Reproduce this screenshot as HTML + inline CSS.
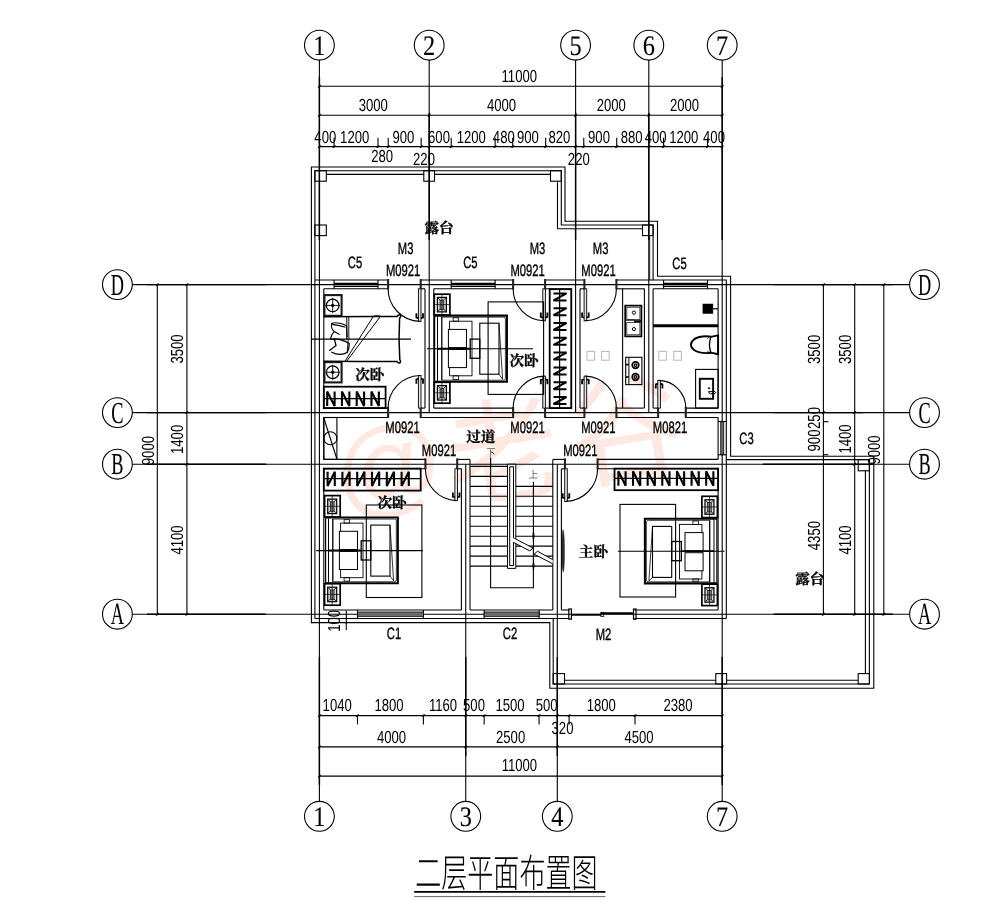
<!DOCTYPE html>
<html><head><meta charset="utf-8"><title>plan</title><style>html,body{margin:0;padding:0;background:#fff}
body{width:1007px;height:909px;overflow:hidden}
svg{display:block;position:absolute;left:0;top:0}
.g path,.g rect,.g circle{}
text{font-family:"Liberation Sans",sans-serif;fill:#000;stroke:none;text-rendering:geometricPrecision;filter:grayscale(1)}
text.l{stroke:#000;stroke-width:0.4px}
text.s{font-family:"Liberation Serif",serif;stroke:#000;stroke-width:0.12px}
text.w{font-family:"Liberation Sans","Noto Sans CJK SC",sans-serif;fill:#fde9e2;stroke:none;filter:none}
text.r{font-family:"Liberation Serif","Noto Serif CJK SC",serif;font-weight:bold;stroke:#000;stroke-width:0.3px}
text.c{font-family:"Liberation Sans","Noto Sans CJK SC",sans-serif;font-weight:300}
</style></head><body>
<svg width="1007" height="909" viewBox="0 0 1007 909">
<rect width="1007" height="909" fill="#fff"/>
<g class="g" fill="none" stroke="#000" stroke-width="1.1" stroke-linecap="butt" stroke-linejoin="miter">
<text class="w" transform="translate(340 511) rotate(-9)" font-size="108">@</text>
<text class="w" transform="translate(452 502) rotate(-9)" font-size="114">老</text>
<text class="w" transform="translate(574 482) rotate(-9)" font-size="118">谷</text>
<circle cx="319.4" cy="45.2" r="14.9"/>
<text class="s" transform="translate(319.4 54.5) scale(0.86 1)" font-size="28.3" text-anchor="middle">1</text>
<circle cx="429.2" cy="45.2" r="14.9"/>
<text class="s" transform="translate(429.2 54.5) scale(0.86 1)" font-size="28.3" text-anchor="middle">2</text>
<circle cx="575.6" cy="45.2" r="14.9"/>
<text class="s" transform="translate(575.6 54.5) scale(0.86 1)" font-size="28.3" text-anchor="middle">5</text>
<circle cx="648.8" cy="45.2" r="14.9"/>
<text class="s" transform="translate(648.8 54.5) scale(0.86 1)" font-size="28.3" text-anchor="middle">6</text>
<circle cx="722.2" cy="45.2" r="14.9"/>
<text class="s" transform="translate(722.2 54.5) scale(0.86 1)" font-size="28.3" text-anchor="middle">7</text>
<circle cx="319.4" cy="816.3" r="14.9"/>
<text class="s" transform="translate(319.4 825.6) scale(0.86 1)" font-size="28.3" text-anchor="middle">1</text>
<circle cx="465.75" cy="816.3" r="14.9"/>
<text class="s" transform="translate(465.75 825.6) scale(0.86 1)" font-size="28.3" text-anchor="middle">3</text>
<circle cx="557.3" cy="816.3" r="14.9"/>
<text class="s" transform="translate(557.3 825.6) scale(0.86 1)" font-size="28.3" text-anchor="middle">4</text>
<circle cx="722.2" cy="816.3" r="14.9"/>
<text class="s" transform="translate(722.2 825.6) scale(0.86 1)" font-size="28.3" text-anchor="middle">7</text>
<circle cx="117.4" cy="284.6" r="14.9"/>
<text class="s" transform="translate(117.4 294.6) scale(0.6 1)" font-size="30.5" text-anchor="middle">D</text>
<circle cx="924.5" cy="284.6" r="14.9"/>
<text class="s" transform="translate(924.5 294.6) scale(0.6 1)" font-size="30.5" text-anchor="middle">D</text>
<path d="M132.3 284.6L909.6 284.6"/>
<circle cx="117.4" cy="412.6" r="14.9"/>
<text class="s" transform="translate(117.4 422.6) scale(0.6 1)" font-size="30.5" text-anchor="middle">C</text>
<circle cx="924.5" cy="412.6" r="14.9"/>
<text class="s" transform="translate(924.5 422.6) scale(0.6 1)" font-size="30.5" text-anchor="middle">C</text>
<path d="M132.3 412.6L909.6 412.6"/>
<circle cx="117.4" cy="464.2" r="14.9"/>
<text class="s" transform="translate(117.4 474.2) scale(0.6 1)" font-size="30.5" text-anchor="middle">B</text>
<circle cx="924.5" cy="464.2" r="14.9"/>
<text class="s" transform="translate(924.5 474.2) scale(0.6 1)" font-size="30.5" text-anchor="middle">B</text>
<path d="M132.3 464.2L909.6 464.2"/>
<circle cx="117.4" cy="614.2" r="14.9"/>
<text class="s" transform="translate(117.4 624.2) scale(0.6 1)" font-size="30.5" text-anchor="middle">A</text>
<circle cx="924.5" cy="614.2" r="14.9"/>
<text class="s" transform="translate(924.5 624.2) scale(0.6 1)" font-size="30.5" text-anchor="middle">A</text>
<path d="M132.3 614.2L909.6 614.2"/>
<path d="M319.4 60.1L319.4 801.4"/>
<path d="M722.2 60.1L722.2 801.4"/>
<path d="M429.2 60.1L429.2 412.6"/>
<path d="M575.6 60.1L575.6 412.6"/>
<path d="M648.8 60.1L648.8 412.6"/>
<path d="M465.75 464.2L465.75 801.4"/>
<path d="M557.3 464.2L557.3 801.4"/>
<path d="M319.4 86.3L723.2 86.3"/>
<path d="M319.4 115.3L723.2 115.3"/>
<path d="M319.4 146.6L723.2 146.6"/>
<path d="M318.1 87.6L320.7 85"/>
<path d="M720.85 87.6L723.45 85"/>
<path d="M318.1 116.6L320.7 114"/>
<path d="M427.9 116.6L430.5 114"/>
<path d="M574.3 116.6L576.9 114"/>
<path d="M647.5 116.6L650.1 114"/>
<path d="M720.9 116.6L723.5 114"/>
<path d="M334.05 137.8L334.05 147.4"/>
<path d="M332.75 147.9L335.35 145.3"/>
<path d="M377.98 137.8L377.98 147.4"/>
<path d="M376.68 147.9L379.28 145.3"/>
<path d="M388.23 137.8L388.23 147.4"/>
<path d="M386.93 147.9L389.53 145.3"/>
<path d="M421.19 137.8L421.19 147.4"/>
<path d="M419.89 147.9L422.49 145.3"/>
<path d="M451.21 137.8L451.21 147.4"/>
<path d="M449.91 147.9L452.51 145.3"/>
<path d="M495.15 137.8L495.15 147.4"/>
<path d="M493.85 147.9L496.45 145.3"/>
<path d="M512.72 137.8L512.72 147.4"/>
<path d="M511.42 147.9L514.02 145.3"/>
<path d="M545.67 137.8L545.67 147.4"/>
<path d="M544.37 147.9L546.97 145.3"/>
<path d="M583.75 137.8L583.75 147.4"/>
<path d="M582.45 147.9L585.05 145.3"/>
<path d="M616.71 137.8L616.71 147.4"/>
<path d="M615.41 147.9L618.01 145.3"/>
<path d="M663.57 137.8L663.57 147.4"/>
<path d="M662.27 147.9L664.87 145.3"/>
<path d="M707.51 137.8L707.51 147.4"/>
<path d="M706.21 147.9L708.81 145.3"/>
<path d="M318.1 147.9L320.7 145.3"/>
<path d="M427.94 147.9L430.54 145.3"/>
<path d="M574.4 147.9L577 145.3"/>
<path d="M647.63 147.9L650.23 145.3"/>
<path d="M720.85 147.9L723.45 145.3"/>
<text class="t" transform="translate(519.3 82) scale(0.75 1)" font-size="17.5" text-anchor="middle">11000</text>
<text class="t" transform="translate(373.3 111.3) scale(0.75 1)" font-size="17.5" text-anchor="middle">3000</text>
<text class="t" transform="translate(501.5 111.3) scale(0.75 1)" font-size="17.5" text-anchor="middle">4000</text>
<text class="t" transform="translate(611.3 111.3) scale(0.75 1)" font-size="17.5" text-anchor="middle">2000</text>
<text class="t" transform="translate(684.5 111.3) scale(0.75 1)" font-size="17.5" text-anchor="middle">2000</text>
<text class="t" transform="translate(325.3 143.1) scale(0.75 1)" font-size="17.5" text-anchor="middle">400</text>
<text class="t" transform="translate(354.7 143.1) scale(0.75 1)" font-size="17.5" text-anchor="middle">1200</text>
<text class="t" transform="translate(403.4 143.1) scale(0.75 1)" font-size="17.5" text-anchor="middle">900</text>
<text class="t" transform="translate(439 143.1) scale(0.75 1)" font-size="17.5" text-anchor="middle">600</text>
<text class="t" transform="translate(471.3 143.1) scale(0.75 1)" font-size="17.5" text-anchor="middle">1200</text>
<text class="t" transform="translate(503.8 143.1) scale(0.75 1)" font-size="17.5" text-anchor="middle">480</text>
<text class="t" transform="translate(527.9 143.1) scale(0.75 1)" font-size="17.5" text-anchor="middle">900</text>
<text class="t" transform="translate(559.4 143.1) scale(0.75 1)" font-size="17.5" text-anchor="middle">820</text>
<text class="t" transform="translate(599 143.1) scale(0.75 1)" font-size="17.5" text-anchor="middle">900</text>
<text class="t" transform="translate(631.6 143.1) scale(0.75 1)" font-size="17.5" text-anchor="middle">880</text>
<text class="t" transform="translate(655.6 143.1) scale(0.75 1)" font-size="17.5" text-anchor="middle">400</text>
<text class="t" transform="translate(683.8 143.1) scale(0.75 1)" font-size="17.5" text-anchor="middle">1200</text>
<text class="t" transform="translate(714 143.1) scale(0.75 1)" font-size="17.5" text-anchor="middle">400</text>
<text class="t" transform="translate(382.2 162) scale(0.75 1)" font-size="17.5" text-anchor="middle">280</text>
<text class="t" transform="translate(424 164.5) scale(0.75 1)" font-size="17.5" text-anchor="middle">220</text>
<text class="t" transform="translate(578.8 164.5) scale(0.75 1)" font-size="17.5" text-anchor="middle">220</text>
<path d="M319.4 715.6L723.2 715.6"/>
<path d="M319.4 746.9L723.2 746.9"/>
<path d="M319.4 776.1L723.2 776.1"/>
<path d="M357.48 714.8L357.48 724.4"/>
<path d="M356.18 716.9L358.78 714.3"/>
<path d="M423.38 714.8L423.38 724.4"/>
<path d="M422.08 716.9L424.68 714.3"/>
<path d="M484.16 714.8L484.16 724.4"/>
<path d="M482.86 716.9L485.46 714.3"/>
<path d="M539.08 714.8L539.08 724.4"/>
<path d="M537.78 716.9L540.38 714.3"/>
<path d="M569.11 714.8L569.11 724.4"/>
<path d="M567.81 716.9L570.41 714.3"/>
<path d="M635.01 714.8L635.01 724.4"/>
<path d="M633.71 716.9L636.31 714.3"/>
<path d="M318.1 716.9L320.7 714.3"/>
<path d="M464.56 716.9L467.16 714.3"/>
<path d="M556.09 716.9L558.69 714.3"/>
<path d="M720.85 716.9L723.45 714.3"/>
<path d="M318.1 748.2L320.7 745.6"/>
<path d="M464.45 748.2L467.05 745.6"/>
<path d="M556 748.2L558.6 745.6"/>
<path d="M720.9 748.2L723.5 745.6"/>
<path d="M318.1 777.4L320.7 774.8"/>
<path d="M720.9 777.4L723.5 774.8"/>
<text class="t" transform="translate(337.2 711) scale(0.75 1)" font-size="17.5" text-anchor="middle">1040</text>
<text class="t" transform="translate(389 711) scale(0.75 1)" font-size="17.5" text-anchor="middle">1800</text>
<text class="t" transform="translate(443 711) scale(0.75 1)" font-size="17.5" text-anchor="middle">1160</text>
<text class="t" transform="translate(474 711) scale(0.75 1)" font-size="17.5" text-anchor="middle">500</text>
<text class="t" transform="translate(510 711) scale(0.75 1)" font-size="17.5" text-anchor="middle">1500</text>
<text class="t" transform="translate(546.6 711) scale(0.75 1)" font-size="17.5" text-anchor="middle">500</text>
<text class="t" transform="translate(601.3 711) scale(0.75 1)" font-size="17.5" text-anchor="middle">1800</text>
<text class="t" transform="translate(678 711) scale(0.75 1)" font-size="17.5" text-anchor="middle">2380</text>
<text class="t" transform="translate(562.5 733.8) scale(0.75 1)" font-size="17.5" text-anchor="middle">320</text>
<text class="t" transform="translate(391.5 742.5) scale(0.75 1)" font-size="17.5" text-anchor="middle">4000</text>
<text class="t" transform="translate(510.6 742.5) scale(0.75 1)" font-size="17.5" text-anchor="middle">2500</text>
<text class="t" transform="translate(639 742.5) scale(0.75 1)" font-size="17.5" text-anchor="middle">4500</text>
<text class="t" transform="translate(519.4 771.2) scale(0.75 1)" font-size="17.5" text-anchor="middle">11000</text>
<path d="M157.3 284.6L157.3 615.2"/>
<path d="M186.9 284.6L186.9 615.2"/>
<path d="M156 285.9L158.6 283.3"/>
<path d="M156 615.5L158.6 612.9"/>
<path d="M185.6 285.9L188.2 283.3"/>
<path d="M185.6 413.9L188.2 411.3"/>
<path d="M185.6 465.5L188.2 462.9"/>
<path d="M185.6 615.5L188.2 612.9"/>
<text class="t" transform="translate(182.5 349) rotate(-90) scale(0.75 1)" font-size="17.5" text-anchor="middle">3500</text>
<text class="t" transform="translate(182.5 439.4) rotate(-90) scale(0.75 1)" font-size="17.5" text-anchor="middle">1400</text>
<text class="t" transform="translate(182.5 540) rotate(-90) scale(0.75 1)" font-size="17.5" text-anchor="middle">4100</text>
<text class="t" transform="translate(153.8 450.6) rotate(-90) scale(0.75 1)" font-size="17.5" text-anchor="middle">9000</text>
<path d="M823.4 284.6L823.4 615.2"/>
<path d="M854.7 284.6L854.7 615.2"/>
<path d="M883.8 284.6L883.8 615.2"/>
<path d="M822.1 285.9L824.7 283.3"/>
<path d="M822.1 615.5L824.7 612.9"/>
<path d="M853.4 285.9L856 283.3"/>
<path d="M853.4 615.5L856 612.9"/>
<path d="M882.5 285.9L885.1 283.3"/>
<path d="M882.5 615.5L885.1 612.9"/>
<path d="M853.4 413.9L856 411.3"/>
<path d="M853.4 465.5L856 462.9"/>
<path d="M822.1 413.9L824.7 411.3"/>
<path d="M822.9 421.7L828.4 421.7"/>
<path d="M822.9 454.7L828.4 454.7"/>
<text class="t" transform="translate(820 349.4) rotate(-90) scale(0.75 1)" font-size="17.5" text-anchor="middle">3500</text>
<text class="t" transform="translate(820 418) rotate(-90) scale(0.75 1)" font-size="17.5" text-anchor="middle">250</text>
<text class="t" transform="translate(820 440.5) rotate(-90) scale(0.75 1)" font-size="17.5" text-anchor="middle">900</text>
<text class="t" transform="translate(820 535.6) rotate(-90) scale(0.75 1)" font-size="17.5" text-anchor="middle">4350</text>
<text class="t" transform="translate(851.3 349.4) rotate(-90) scale(0.75 1)" font-size="17.5" text-anchor="middle">3500</text>
<text class="t" transform="translate(851.3 439) rotate(-90) scale(0.75 1)" font-size="17.5" text-anchor="middle">1400</text>
<text class="t" transform="translate(851.3 540) rotate(-90) scale(0.75 1)" font-size="17.5" text-anchor="middle">4100</text>
<text class="t" transform="translate(880.3 450) rotate(-90) scale(0.75 1)" font-size="17.5" text-anchor="middle">9000</text>
<path d="M311.4 167L565 167L565 221.3L657.5 221.3L657.5 276.3L730.6 276.3L730.6 456.3L873.8 456.3L873.8 688.3L549.8 688.3L549.8 622.6L311.4 622.6Z"/>
<path d="M314.9 618.5L314.9 170.7L561.3 170.7L561.3 225L653.1 225L653.1 280L726.3 280L726.3 459.6L869.4 459.6L869.4 684L553.2 684L553.2 618.5"/>
<path d="M326.3 174.4L423.8 174.4"/>
<path d="M434.5 174.4L550.5 174.4"/>
<path d="M557.5 180.8L557.5 228.8"/>
<path d="M557.5 228.8L642.5 228.8"/>
<path d="M865.4 470.8L865.4 673.6"/>
<path d="M649.7 235.6L649.7 280" stroke-width="0.8"/>
<path d="M564.5 680.2L715.8 680.2"/>
<path d="M726.6 680.2L858.1 680.2"/>
<rect x="314.9" y="170.7" width="11.4" height="10.5"/>
<rect x="423.8" y="170.7" width="10.7" height="10.5"/>
<rect x="550.5" y="170.7" width="10.8" height="10.5"/>
<rect x="314.9" y="225" width="11.4" height="10.6"/>
<rect x="642.5" y="225" width="10.6" height="10.6"/>
<rect x="858.2" y="459.6" width="11.2" height="11.2"/>
<rect x="553.2" y="673.6" width="11.3" height="10.4"/>
<rect x="715.8" y="673.6" width="10.8" height="10.4"/>
<rect x="858.2" y="673.6" width="11.2" height="10.4"/>
<path d="M314.9 280L388.1 280"/>
<path d="M420.7 280L513.1 280"/>
<path d="M545.1 280L584.4 280"/>
<path d="M616.4 280L653.1 280"/>
<path d="M323.8 288.8L388.1 288.8"/>
<path d="M420.7 288.8L425 288.8"/>
<path d="M433.8 288.8L513.1 288.8"/>
<path d="M545.1 288.8L571.3 288.8"/>
<path d="M580 288.8L584.4 288.8"/>
<path d="M616.4 288.8L644.4 288.8"/>
<path d="M653.1 288.8L718.1 288.8"/>
<path d="M323.8 408.1L388.1 408.1"/>
<path d="M420.7 408.1L425 408.1"/>
<path d="M433.8 408.1L513.1 408.1"/>
<path d="M545.1 408.1L571.3 408.1"/>
<path d="M580 408.1L584.4 408.1"/>
<path d="M616.4 408.1L644.4 408.1"/>
<path d="M653.1 408.1L658.1 408.1"/>
<path d="M685.8 408.1L718.1 408.1"/>
<path d="M323.8 417.5L388.1 417.5"/>
<path d="M420.7 417.5L513.1 417.5"/>
<path d="M545.1 417.5L584.4 417.5"/>
<path d="M616.4 417.5L658.1 417.5"/>
<path d="M685.8 417.5L718.1 417.5"/>
<path d="M323.8 459.4L425.4 459.4"/>
<path d="M457.2 459.4L470 459.4"/>
<path d="M552.8 459.4L565 459.4"/>
<path d="M597.6 459.4L718.1 459.4"/>
<path d="M323.8 468.8L425.4 468.8"/>
<path d="M457.2 468.8L461.4 468.8"/>
<path d="M561.4 468.8L565 468.8"/>
<path d="M597.6 468.8L718.1 468.8"/>
<path d="M323.8 610L461.4 610"/>
<path d="M470 610L552.8 610"/>
<path d="M561.4 610L569.3 610"/>
<path d="M634.5 610L718.1 610"/>
<path d="M314.9 618.5L569.3 618.5"/>
<path d="M634.5 618.5L726.3 618.5"/>
<path d="M323.8 288.8L323.8 408.1"/>
<path d="M323.8 417.5L323.8 459.4"/>
<path d="M323.8 468.8L323.8 610"/>
<path d="M425 288.8L425 408.1"/>
<path d="M433.8 288.8L433.8 408.1"/>
<path d="M571.3 288.8L571.3 408.1"/>
<path d="M580 288.8L580 408.1"/>
<path d="M644.4 288.8L644.4 408.1"/>
<path d="M653.1 288.8L653.1 408.1"/>
<path d="M718.1 288.8L718.1 408.1"/>
<path d="M718.1 417.5L718.1 459.4"/>
<path d="M718.1 468.8L718.1 610"/>
<path d="M726.3 459.6L726.3 618.5"/>
<path d="M461.4 468.8L461.4 610"/>
<path d="M470 459.4L470 610"/>
<path d="M552.8 459.4L552.8 610"/>
<path d="M561.4 468.8L561.4 610"/>
<path d="M388.1 279L388.1 289.4" stroke-width="2.1" stroke="#222"/>
<path d="M420.7 279L420.7 289.4" stroke-width="2.1" stroke="#222"/>
<path d="M513.1 279L513.1 289.4" stroke-width="2.1" stroke="#222"/>
<path d="M545.1 279L545.1 289.4" stroke-width="2.1" stroke="#222"/>
<path d="M584.4 279L584.4 289.4" stroke-width="2.1" stroke="#222"/>
<path d="M616.4 279L616.4 289.4" stroke-width="2.1" stroke="#222"/>
<path d="M388.1 407.1L388.1 418.1" stroke-width="2.1" stroke="#222"/>
<path d="M420.7 407.1L420.7 418.1" stroke-width="2.1" stroke="#222"/>
<path d="M513.1 407.1L513.1 418.1" stroke-width="2.1" stroke="#222"/>
<path d="M545.1 407.1L545.1 418.1" stroke-width="2.1" stroke="#222"/>
<path d="M584.4 407.1L584.4 418.1" stroke-width="2.1" stroke="#222"/>
<path d="M616.4 407.1L616.4 418.1" stroke-width="2.1" stroke="#222"/>
<path d="M658.1 407.1L658.1 418.1" stroke-width="2.1" stroke="#222"/>
<path d="M685.8 407.1L685.8 418.1" stroke-width="2.1" stroke="#222"/>
<path d="M425.4 458.4L425.4 469.4" stroke-width="2.1" stroke="#222"/>
<path d="M457.2 458.4L457.2 469.4" stroke-width="2.1" stroke="#222"/>
<path d="M565 458.4L565 469.4" stroke-width="2.1" stroke="#222"/>
<path d="M597.6 458.4L597.6 469.4" stroke-width="2.1" stroke="#222"/>
<path d="M334.05 280L334.05 288.8"/>
<path d="M377.98 280L377.98 288.8"/>
<path d="M334.05 283.3L377.98 283.3" stroke-width="1.3"/>
<path d="M334.05 286.4L377.98 286.4" stroke-width="1.1"/>
<path d="M451.21 280L451.21 288.8"/>
<path d="M495.15 280L495.15 288.8"/>
<path d="M451.21 283.3L495.15 283.3" stroke-width="1.3"/>
<path d="M451.21 286.4L495.15 286.4" stroke-width="1.1"/>
<path d="M663.57 280L663.57 288.8"/>
<path d="M707.51 280L707.51 288.8"/>
<path d="M663.57 283.3L707.51 283.3" stroke-width="1.3"/>
<path d="M663.57 286.4L707.51 286.4" stroke-width="1.1"/>
<path d="M357.48 610L357.48 618.5"/>
<path d="M423.38 610L423.38 618.5"/>
<rect x="357.48" y="611.95" width="65.91" height="4.5" stroke-width="0.7" fill="#6a6a6a"/>
<path d="M484.16 610L484.16 618.5"/>
<path d="M539.08 610L539.08 618.5"/>
<rect x="484.16" y="611.95" width="54.92" height="4.5" stroke-width="0.7" fill="#6a6a6a"/>
<rect x="720.7" y="421.7" width="3.1" height="33" stroke-width="0.7" fill="#666"/>
<path d="M718.1 421.5L726.3 421.5"/>
<path d="M718.1 454.8L726.3 454.8"/>
<rect x="418.4" y="288.8" width="2.6" height="32.6" stroke-width="0.9" fill="#e4e4e4"/>
<path d="M416.4 313.2L416.4 317.5L418.4 318.2" stroke-width="1.8"/>
<path d="M423 313.2L423 317.5L421 318.2" stroke-width="1.8"/>
<path d="M419.7 321.4A32.6 32.6 0 0 1 388.1 288.8"/>
<rect x="542.8" y="288.8" width="2.6" height="32" stroke-width="0.9" fill="#e4e4e4"/>
<path d="M540.8 312.6L540.8 316.9L542.8 317.6" stroke-width="1.8"/>
<path d="M547.4 312.6L547.4 316.9L545.4 317.6" stroke-width="1.8"/>
<path d="M544.1 320.8A32 32 0 0 1 513.1 288.8"/>
<rect x="584.1" y="288.8" width="2.6" height="32" stroke-width="0.9" fill="#e4e4e4"/>
<path d="M582.1 312.6L582.1 316.9L584.1 317.6" stroke-width="1.8"/>
<path d="M588.7 312.6L588.7 316.9L586.7 317.6" stroke-width="1.8"/>
<path d="M585.4 320.8A32 32 0 0 0 616.4 288.8"/>
<rect x="418.4" y="375.5" width="2.6" height="32.6" stroke-width="0.9" fill="#e4e4e4"/>
<path d="M416.4 383.7L416.4 379.4L418.4 378.7" stroke-width="1.8"/>
<path d="M423 383.7L423 379.4L421 378.7" stroke-width="1.8"/>
<path d="M419.7 375.5A32.6 32.6 0 0 0 388.1 408.1"/>
<rect x="542.8" y="376.1" width="2.6" height="32" stroke-width="0.9" fill="#e4e4e4"/>
<path d="M540.8 384.3L540.8 380L542.8 379.3" stroke-width="1.8"/>
<path d="M547.4 384.3L547.4 380L545.4 379.3" stroke-width="1.8"/>
<path d="M544.1 376.1A32 32 0 0 0 513.1 408.1"/>
<rect x="584.1" y="376.1" width="2.6" height="32" stroke-width="0.9" fill="#e4e4e4"/>
<path d="M582.1 384.3L582.1 380L584.1 379.3" stroke-width="1.8"/>
<path d="M588.7 384.3L588.7 380L586.7 379.3" stroke-width="1.8"/>
<path d="M585.4 376.1A32 32 0 0 1 616.4 408.1"/>
<rect x="657.8" y="380.4" width="2.6" height="27.7" stroke-width="0.9" fill="#e4e4e4"/>
<path d="M655.8 388.6L655.8 384.3L657.8 383.6" stroke-width="1.8"/>
<path d="M662.4 388.6L662.4 384.3L660.4 383.6" stroke-width="1.8"/>
<path d="M659.1 380.4A27.7 27.7 0 0 1 685.8 408.1"/>
<rect x="454.9" y="468.8" width="2.6" height="31.8" stroke-width="0.9" fill="#e4e4e4"/>
<path d="M452.9 492.4L452.9 496.7L454.9 497.4" stroke-width="1.8"/>
<path d="M459.5 492.4L459.5 496.7L457.5 497.4" stroke-width="1.8"/>
<path d="M456.2 500.6A31.8 31.8 0 0 1 425.4 468.8"/>
<rect x="564.7" y="468.8" width="2.6" height="32.6" stroke-width="0.9" fill="#e4e4e4"/>
<path d="M562.7 493.2L562.7 497.5L564.7 498.2" stroke-width="1.8"/>
<path d="M569.3 493.2L569.3 497.5L567.3 498.2" stroke-width="1.8"/>
<path d="M566 501.4A32.6 32.6 0 0 0 597.6 468.8"/>
<rect x="568.8" y="609" width="2.6" height="10.2" stroke-width="1.2"/>
<rect x="633.5" y="609" width="2.5" height="10.2" stroke-width="1.2"/>
<path d="M571.6 614.8L601.5 614.8" stroke-width="1.9"/>
<path d="M601 613.2L633.4 613.2" stroke-width="1.9"/>
<rect x="600.8" y="612.6" width="2.9" height="3.8" stroke-width="0.8"/>
<rect x="323.8" y="386.7" width="61.8" height="21.4" stroke-width="1.8"/>
<path d="M323.8 398.6L385.6 398.6" stroke-width="1.2"/>
<path d="M327.2 406L327.2 391.6L334.6 406L334.6 391.6" stroke-width="2.1"/>
<path d="M341.95 406L341.95 391.6L349.35 406L349.35 391.6" stroke-width="2.1"/>
<path d="M356.7 406L356.7 391.6L364.1 406L364.1 391.6" stroke-width="2.1"/>
<path d="M371.45 406L371.45 391.6L378.85 406L378.85 391.6" stroke-width="2.1"/>
<rect x="323.8" y="468.6" width="96.9" height="22" stroke-width="1.8"/>
<path d="M323.8 478.7L420.7 478.7" stroke-width="1.2"/>
<path d="M327.6 471.7L327.6 486.1L334.8 471.7L334.8 486.1" stroke-width="2.1"/>
<path d="M342.4 471.7L342.4 486.1L349.6 471.7L349.6 486.1" stroke-width="2.1"/>
<path d="M357.2 471.7L357.2 486.1L364.4 471.7L364.4 486.1" stroke-width="2.1"/>
<path d="M372 471.7L372 486.1L379.2 471.7L379.2 486.1" stroke-width="2.1"/>
<path d="M386.8 471.7L386.8 486.1L394 471.7L394 486.1" stroke-width="2.1"/>
<path d="M401.6 471.7L401.6 486.1L408.8 471.7L408.8 486.1" stroke-width="2.1"/>
<rect x="614.5" y="468.6" width="103.6" height="21.6" stroke-width="1.8"/>
<path d="M614.5 478.3L718.1 478.3" stroke-width="1.2"/>
<path d="M618.4 485.7L618.4 471.3L625.6 485.7L625.6 471.3" stroke-width="2.1"/>
<path d="M633.03 485.7L633.03 471.3L640.23 485.7L640.23 471.3" stroke-width="2.1"/>
<path d="M647.66 485.7L647.66 471.3L654.86 485.7L654.86 471.3" stroke-width="2.1"/>
<path d="M662.29 485.7L662.29 471.3L669.49 485.7L669.49 471.3" stroke-width="2.1"/>
<path d="M676.92 485.7L676.92 471.3L684.12 485.7L684.12 471.3" stroke-width="2.1"/>
<path d="M691.55 485.7L691.55 471.3L698.75 485.7L698.75 471.3" stroke-width="2.1"/>
<path d="M706.18 485.7L706.18 471.3L713.38 485.7L713.38 471.3" stroke-width="2.1"/>
<rect x="549.7" y="289.2" width="21.6" height="118.9" stroke-width="1.8"/>
<path d="M559.6 288.8L559.6 408.1" stroke-width="1.2"/>
<path d="M553.5 293.4L566.5 293.4L553.5 300.4L566.5 300.4" stroke-width="2"/>
<path d="M553.5 308.2L566.5 308.2L553.5 315.2L566.5 315.2" stroke-width="2"/>
<path d="M553.5 323L566.5 323L553.5 330L566.5 330" stroke-width="2"/>
<path d="M553.5 337.8L566.5 337.8L553.5 344.8L566.5 344.8" stroke-width="2"/>
<path d="M553.5 352.6L566.5 352.6L553.5 359.6L566.5 359.6" stroke-width="2"/>
<path d="M553.5 367.4L566.5 367.4L553.5 374.4L566.5 374.4" stroke-width="2"/>
<path d="M553.5 382.2L566.5 382.2L553.5 389.2L566.5 389.2" stroke-width="2"/>
<path d="M553.5 397L566.5 397L553.5 404L566.5 404" stroke-width="2"/>
<rect x="366.3" y="505" width="55.6" height="92.5"/>
<rect x="324.6" y="495.6" width="15.6" height="21.4" stroke-width="1.7"/>
<rect x="327.7" y="499.1" width="9" height="14.5" stroke-width="1.2" fill="#d8d8d8"/>
<path d="M327.7 499.1L330.4 501.7" stroke-width="0.8"/>
<path d="M327.7 513.5L330.4 510.9" stroke-width="0.8"/>
<path d="M336.7 499.1L334 501.7" stroke-width="0.8"/>
<path d="M336.7 513.5L334 510.9" stroke-width="0.8"/>
<rect x="330.4" y="501.9" width="3.6" height="9.4" stroke-width="0.9" stroke="#222" fill="#8c8c8c"/>
<path d="M324.6 506.3L340.2 506.3" stroke-width="0.7"/>
<path d="M332.2 495.6L332.2 517" stroke-width="0.7"/>
<rect x="324.6" y="583.6" width="15.6" height="21.6" stroke-width="1.7"/>
<rect x="327.7" y="587.2" width="9" height="14.5" stroke-width="1.2" fill="#d8d8d8"/>
<path d="M327.7 587.2L330.4 589.8" stroke-width="0.8"/>
<path d="M327.7 601.6L330.4 599" stroke-width="0.8"/>
<path d="M336.7 587.2L334 589.8" stroke-width="0.8"/>
<path d="M336.7 601.6L334 599" stroke-width="0.8"/>
<rect x="330.4" y="590" width="3.6" height="9.4" stroke-width="0.9" stroke="#222" fill="#8c8c8c"/>
<path d="M324.6 594.4L340.2 594.4" stroke-width="0.7"/>
<path d="M332.2 583.6L332.2 605.2" stroke-width="0.7"/>
<path d="M325.6 517.5L397.8 517.5L397.8 583.3L325.6 583.3" stroke-width="2.1"/>
<path d="M325.6 517.5L325.6 583.3" stroke-width="1.2"/>
<path d="M328.5 518.3L328.5 582.5" stroke-width="1"/>
<path d="M332.8 519L332.8 581.8" stroke-width="1.3"/>
<path d="M332.8 519.1L394.4 519.1Q396.3 519.1 396.3 521L396.3 579.8Q396.3 581.7 394.4 581.7L332.8 581.7" stroke-width="0.7"/>
<rect x="340.6" y="523.1" width="22.4" height="54.6" stroke-width="0.9"/>
<rect x="344.1" y="519.7" width="5.5" height="3.4" stroke-width="0.8"/>
<rect x="344.1" y="577.7" width="5.5" height="3.4" stroke-width="0.8"/>
<rect x="339.4" y="531.3" width="18.1" height="18.2" stroke-width="1" fill="#fff"/>
<rect x="339.4" y="551.4" width="18.1" height="18.1" stroke-width="1" fill="#fff"/>
<path d="M328.5 550.45L361.6 550.45" stroke-width="1.9"/>
<rect x="361.2" y="540.8" width="9.6" height="19.2" stroke-width="1.3"/>
<rect x="370.8" y="525.1" width="19.2" height="51" stroke-width="1.1"/>
<path d="M390 525.5L393.6 580.8L390 576.1" stroke-width="0.8"/>
<path d="M316.3 550.6L423 550.6"/>
<rect x="488.1" y="301.9" width="55.5" height="92.5"/>
<rect x="434.3" y="294.2" width="15.6" height="20.8" stroke-width="1.7"/>
<rect x="437.4" y="297.4" width="9" height="14.5" stroke-width="1.2" fill="#d8d8d8"/>
<path d="M437.4 297.4L440.1 300" stroke-width="0.8"/>
<path d="M437.4 311.8L440.1 309.2" stroke-width="0.8"/>
<path d="M446.4 297.4L443.7 300" stroke-width="0.8"/>
<path d="M446.4 311.8L443.7 309.2" stroke-width="0.8"/>
<rect x="440.1" y="300.2" width="3.6" height="9.4" stroke-width="0.9" stroke="#222" fill="#8c8c8c"/>
<path d="M434.3 304.6L449.9 304.6" stroke-width="0.7"/>
<path d="M441.9 294.2L441.9 315" stroke-width="0.7"/>
<rect x="434.3" y="382.3" width="15.6" height="20.9" stroke-width="1.7"/>
<rect x="437.4" y="385.55" width="9" height="14.5" stroke-width="1.2" fill="#d8d8d8"/>
<path d="M437.4 385.55L440.1 388.15" stroke-width="0.8"/>
<path d="M437.4 399.95L440.1 397.35" stroke-width="0.8"/>
<path d="M446.4 385.55L443.7 388.15" stroke-width="0.8"/>
<path d="M446.4 399.95L443.7 397.35" stroke-width="0.8"/>
<rect x="440.1" y="388.35" width="3.6" height="9.4" stroke-width="0.9" stroke="#222" fill="#8c8c8c"/>
<path d="M434.3 392.75L449.9 392.75" stroke-width="0.7"/>
<path d="M441.9 382.3L441.9 403.2" stroke-width="0.7"/>
<path d="M434.6 315.6L506.9 315.6L506.9 381.8L434.6 381.8" stroke-width="2.1"/>
<path d="M434.6 315.6L434.6 381.8" stroke-width="1.2"/>
<path d="M437.5 316.4L437.5 381" stroke-width="1"/>
<path d="M441.8 317.1L441.8 380.3" stroke-width="1.3"/>
<path d="M441.8 317.2L503.5 317.2Q505.4 317.2 505.4 319.1L505.4 378.3Q505.4 380.2 503.5 380.2L441.8 380.2" stroke-width="0.7"/>
<rect x="449.6" y="321.2" width="22.4" height="54.6" stroke-width="0.9"/>
<rect x="453.1" y="317.8" width="5.5" height="3.4" stroke-width="0.8"/>
<rect x="453.1" y="375.8" width="5.5" height="3.8" stroke-width="0.8"/>
<rect x="448.4" y="329.4" width="18.1" height="18.2" stroke-width="1" fill="#fff"/>
<rect x="448.4" y="349.5" width="18.1" height="18.1" stroke-width="1" fill="#fff"/>
<path d="M437.5 348.75L470.6 348.75" stroke-width="1.9"/>
<rect x="470.2" y="339.1" width="9.6" height="19.2" stroke-width="1.3"/>
<rect x="479.8" y="323.2" width="19.2" height="51" stroke-width="1.1"/>
<path d="M499 323.6L502.6 379.3L499 374.2" stroke-width="0.8"/>
<path d="M427 348.8L533 348.8"/>
<rect x="620" y="504.4" width="55.6" height="92.6"/>
<rect x="701.9" y="496.3" width="15.5" height="21.3" stroke-width="1.7"/>
<rect x="704.95" y="499.75" width="9" height="14.5" stroke-width="1.2" fill="#d8d8d8"/>
<path d="M704.95 499.75L707.65 502.35" stroke-width="0.8"/>
<path d="M704.95 514.15L707.65 511.55" stroke-width="0.8"/>
<path d="M713.95 499.75L711.25 502.35" stroke-width="0.8"/>
<path d="M713.95 514.15L711.25 511.55" stroke-width="0.8"/>
<rect x="707.65" y="502.55" width="3.6" height="9.4" stroke-width="0.9" stroke="#222" fill="#8c8c8c"/>
<path d="M701.9 506.95L717.4 506.95" stroke-width="0.7"/>
<path d="M709.45 496.3L709.45 517.6" stroke-width="0.7"/>
<rect x="701.9" y="584.2" width="15.5" height="21.4" stroke-width="1.7"/>
<rect x="704.95" y="587.7" width="9" height="14.5" stroke-width="1.2" fill="#d8d8d8"/>
<path d="M704.95 587.7L707.65 590.3" stroke-width="0.8"/>
<path d="M704.95 602.1L707.65 599.5" stroke-width="0.8"/>
<path d="M713.95 587.7L711.25 590.3" stroke-width="0.8"/>
<path d="M713.95 602.1L711.25 599.5" stroke-width="0.8"/>
<rect x="707.65" y="590.5" width="3.6" height="9.4" stroke-width="0.9" stroke="#222" fill="#8c8c8c"/>
<path d="M701.9 594.9L717.4 594.9" stroke-width="0.7"/>
<path d="M709.45 584.2L709.45 605.6" stroke-width="0.7"/>
<path d="M716.9 518.8L644.9 518.8L644.9 583.4L716.9 583.4" stroke-width="2.1"/>
<path d="M716.9 518.8L716.9 583.4" stroke-width="1.2"/>
<path d="M714 519.6L714 582.6" stroke-width="1"/>
<path d="M709.7 520.3L709.7 581.9" stroke-width="1.3"/>
<path d="M709.7 520.4L648.3 520.4Q646.4 520.4 646.4 522.3L646.4 579.9Q646.4 581.8 648.3 581.8L709.7 581.8" stroke-width="0.7"/>
<rect x="679.5" y="524.4" width="22.4" height="54.6" stroke-width="0.9"/>
<rect x="692.9" y="521" width="5.5" height="3.4" stroke-width="0.8"/>
<rect x="692.9" y="579" width="5.5" height="2.2" stroke-width="0.8"/>
<rect x="685" y="532.6" width="18.1" height="18.2" stroke-width="1" fill="#fff"/>
<rect x="685" y="552.7" width="18.1" height="18.1" stroke-width="1" fill="#fff"/>
<path d="M714 551.15L680.9 551.15" stroke-width="1.9"/>
<rect x="671.7" y="541.5" width="9.6" height="19.2" stroke-width="1.3"/>
<rect x="652.5" y="526.4" width="19.2" height="51" stroke-width="1.1"/>
<path d="M652.5 526.8L648.9 580.9L652.5 577.4" stroke-width="0.8"/>
<path d="M618 551.2L724.5 551.2"/>
<path d="M563 529.8Q564.4 533 564.4 551Q564.4 569 563.3 571.8Q561.9 569 561.9 551Q561.9 533 563 529.8Z" stroke-width="0.5" fill="#333"/>
<rect x="324.4" y="295.1" width="17.2" height="20.7" stroke-width="2.1" stroke="#1a1a1a"/>
<circle cx="332.7" cy="305.45" r="6.3" stroke-width="1.2"/>
<circle cx="332.7" cy="305.45" r="1.4" stroke-width="0.5" fill="#000"/>
<path d="M325.4 305.45L340 305.45" stroke-width="0.9"/>
<path d="M332.7 297.85L332.7 313.05" stroke-width="0.9"/>
<rect x="324.4" y="362.1" width="17.2" height="20.3" stroke-width="2.1" stroke="#1a1a1a"/>
<circle cx="332.7" cy="372.25" r="6.3" stroke-width="1.2"/>
<circle cx="332.7" cy="372.25" r="1.4" stroke-width="0.5" fill="#000"/>
<path d="M325.4 372.25L340 372.25" stroke-width="0.9"/>
<path d="M332.7 364.65L332.7 379.85" stroke-width="0.9"/>
<path d="M323.8 316.8Q360 316.2 397 316.5Q398.6 314 400.4 315.2Q401.4 316.8 399.6 318.2Q398.4 339 399.8 359.6Q401.2 361.6 400 362.8Q398.2 363.6 397 361.6Q360 361.6 323.8 361.2" stroke-width="1.5"/>
<path d="M346.8 317L346.8 340" stroke-width="1"/>
<path d="M348.8 317L348.8 339.6" stroke-width="0.9"/>
<path d="M373.3 316.4L345 361.2" stroke-width="1"/>
<path d="M380.4 316.4L346.7 361.2" stroke-width="1"/>
<path d="M373.3 316.2Q376.8 314.8 380.4 316.2" stroke-width="0.9"/>
<path d="M348.2 339.6L347.2 352" stroke-width="0.9"/>
<path d="M331.7 323.2Q338.6 321.4 346.6 325.8L347.2 337.4M331.7 323.2Q330.6 328.6 334.2 331.6L339.6 334.4M334.2 331.6Q330.8 335 330.4 339.4M332.2 324.4Q340 325.6 345.4 327.2" stroke-width="1.1"/>
<path d="M330.4 339.4Q334 338.4 340 339.6Q346 341 349.2 343.6Q349.4 348 347.4 352.2Q340.4 356.8 331.2 352M334.4 339.2L336 345.6L329.2 350.8" stroke-width="1.3"/>
<path d="M311.5 339.1L411 339.1"/>
<rect x="323.8" y="417.5" width="13.1" height="41.9"/>
<path d="M323.8 418L336.9 459"/>
<circle cx="330.4" cy="438.2" r="6.5"/>
<path d="M622.6 288.8L622.6 408.1"/>
<rect x="625.2" y="305.6" width="16.2" height="30.8" stroke-width="1.7"/>
<rect x="626.8" y="307.2" width="13.1" height="12.4" stroke-width="0.7"/>
<rect x="626.8" y="322.6" width="13.1" height="12.2" stroke-width="0.7"/>
<circle cx="633.9" cy="312.6" r="1.6" stroke-width="1"/>
<circle cx="633.9" cy="329.1" r="1.6" stroke-width="1"/>
<path d="M626 320.2L634 320.2" stroke-width="1"/>
<path d="M634 321.2L641.4 321.2" stroke-width="2"/>
<rect x="625.7" y="357.3" width="16.2" height="27.3" stroke-width="1.1"/>
<path d="M628.9 357.3L628.9 384.6" stroke-width="1"/>
<path d="M625.7 364.6L628.9 364.6" stroke-width="1.6"/>
<path d="M625.7 377L628.9 377" stroke-width="1.6"/>
<circle cx="635.5" cy="365.1" r="3.3" stroke-width="1.7"/>
<circle cx="635.5" cy="365.1" r="1.3" stroke-width="1.2"/>
<circle cx="635.5" cy="377" r="3.3" stroke-width="1.7"/>
<circle cx="635.5" cy="377" r="1.3" stroke-width="1.2"/>
<rect x="587" y="351.4" width="7.6" height="8.8" stroke-width="1" stroke="#b9b9b9"/>
<rect x="601.6" y="351.4" width="7.6" height="8.8" stroke-width="1" stroke="#b9b9b9"/>
<rect x="658.8" y="351.4" width="7.6" height="8.8" stroke-width="1" stroke="#b9b9b9"/>
<rect x="673.8" y="351.4" width="7.6" height="8.8" stroke-width="1" stroke="#b9b9b9"/>
<path d="M653.1 325.7L718.1 325.7" stroke-width="3"/>
<rect x="702.9" y="304" width="10" height="9.5" stroke-width="0.5" fill="#000"/>
<path d="M712.9 308.8L718.1 308.8" stroke-width="1.2"/>
<path d="M711.2 336.6Q700 335.4 694 339.4Q690.8 341.8 690.9 344.8Q691 348 694.4 350.2Q700.4 354 711.2 352.8" stroke-width="1.9"/>
<path d="M710.8 336.9L718.1 335.4L718.1 354.2L710.8 352.6" stroke-width="1.9"/>
<path d="M710.8 336.9Q708.2 344.8 710.8 352.6" stroke-width="1.3"/>
<path d="M707.4 338.6L709.4 336.8" stroke-width="0.9"/>
<path d="M707.4 351L709.4 352.8" stroke-width="0.9"/>
<rect x="695.6" y="369.4" width="22.5" height="38.7"/>
<rect x="699.8" y="378.8" width="13.3" height="20" stroke-width="1.9"/>
<circle cx="709" cy="388.2" r="0.8" stroke-width="0.6" fill="#000"/>
<path d="M708.6 391.6L715 391.6Q716.4 392.6 715 393.6L710.4 393.8Q708.4 393 708.6 391.6Z" stroke-width="1"/>
<path d="M470 466.4L508.1 466.4"/>
<path d="M470 476.37L508.1 476.37"/>
<path d="M470 486.34L508.1 486.34"/>
<path d="M515.9 486.34L552.8 486.34"/>
<path d="M470 496.31L508.1 496.31"/>
<path d="M515.9 496.31L552.8 496.31"/>
<path d="M470 506.28L508.1 506.28"/>
<path d="M515.9 506.28L552.8 506.28"/>
<path d="M470 516.25L508.1 516.25"/>
<path d="M515.9 516.25L552.8 516.25"/>
<path d="M470 526.22L508.1 526.22"/>
<path d="M515.9 526.22L552.8 526.22"/>
<path d="M470 536.19L508.1 536.19"/>
<path d="M515.9 536.19L552.8 536.19"/>
<path d="M470 546.16L508.1 546.16"/>
<path d="M515.9 546.16L552.8 546.16"/>
<path d="M470 556.13L508.1 556.13"/>
<path d="M515.9 556.13L552.8 556.13"/>
<path d="M470 566.1L508.1 566.1"/>
<path d="M515.9 566.1L552.8 566.1"/>
<path d="M507.5 464.2L507.5 568.4L515.8 568.4L515.8 464.2" stroke-width="1" fill="#fff"/>
<path d="M509.7 466.8L509.7 565.5L513.5 565.5L513.5 466.8" stroke-width="1"/>
<path d="M507.5 464.2L515.8 464.2"/>
<path d="M509.7 466.8L513.5 466.8"/>
<path d="M490.6 458L490.6 587.7L533.4 587.7L533.4 481.8"/>
<path d="M513.4 537.8L533 548L529.7 550.9L513.4 542.3" stroke-width="1" fill="#fff"/>
<path d="M552.7 559.6L537.5 551.2L534.2 554.2L552.7 563.8" stroke-width="1" fill="#fff"/>
<rect x="511.2" y="538.6" width="3.6" height="3.2" fill="#fff" stroke="none"/>
<path d="M513.5 466.8L513.5 537.8" stroke-width="1"/>
<path d="M533.5 531.4L534.3 535.9L533.5 540.4L532.7 535.9Z" stroke-width="0.6" fill="#000"/>
<path d="M533.5 561.2L534.3 565.7L533.5 570.2L532.7 565.7Z" stroke-width="0.6" fill="#000"/>
<path d="M346.3 610.6L346.3 630"/>
<path d="M344.5 618.5L348 618.5"/>
<path d="M344.5 622.6L348 622.6"/>
<text class="t" transform="translate(339.5 620.8) rotate(-90) scale(0.75 1)" font-size="17.5" text-anchor="middle">100</text>
<text class="l" transform="translate(355 267.9) scale(0.68 1)" font-size="16.5" text-anchor="middle">C5</text>
<text class="l" transform="translate(470.4 267.9) scale(0.68 1)" font-size="16.5" text-anchor="middle">C5</text>
<text class="l" transform="translate(679.5 269.2) scale(0.68 1)" font-size="16.5" text-anchor="middle">C5</text>
<text class="l" transform="translate(405.6 254) scale(0.68 1)" font-size="16.5" text-anchor="middle">M3</text>
<text class="l" transform="translate(537.5 254) scale(0.68 1)" font-size="16.5" text-anchor="middle">M3</text>
<text class="l" transform="translate(600.6 254) scale(0.68 1)" font-size="16.5" text-anchor="middle">M3</text>
<text class="l" transform="translate(403.1 275.9) scale(0.68 1)" font-size="16.5" text-anchor="middle">M0921</text>
<text class="l" transform="translate(527.6 275.9) scale(0.68 1)" font-size="16.5" text-anchor="middle">M0921</text>
<text class="l" transform="translate(598.5 275.9) scale(0.68 1)" font-size="16.5" text-anchor="middle">M0921</text>
<text class="l" transform="translate(402.5 433.2) scale(0.68 1)" font-size="16.5" text-anchor="middle">M0921</text>
<text class="l" transform="translate(527.5 433.2) scale(0.68 1)" font-size="16.5" text-anchor="middle">M0921</text>
<text class="l" transform="translate(598.4 433.2) scale(0.68 1)" font-size="16.5" text-anchor="middle">M0921</text>
<text class="l" transform="translate(670 433.2) scale(0.68 1)" font-size="16.5" text-anchor="middle">M0821</text>
<text class="l" transform="translate(439 455.6) scale(0.68 1)" font-size="16.5" text-anchor="middle">M0921</text>
<text class="l" transform="translate(580.3 455.6) scale(0.68 1)" font-size="16.5" text-anchor="middle">M0921</text>
<text class="l" transform="translate(394 639) scale(0.68 1)" font-size="16.5" text-anchor="middle">C1</text>
<text class="l" transform="translate(510 639) scale(0.68 1)" font-size="16.5" text-anchor="middle">C2</text>
<text class="l" transform="translate(603.5 639.6) scale(0.68 1)" font-size="16.5" text-anchor="middle">M2</text>
<text class="l" transform="translate(746.5 443.8) scale(0.68 1)" font-size="16.5" text-anchor="middle">C3</text>
<text class="r" x="424.5" y="233.3" font-size="14.6">露台</text>
<text class="r" x="355.2" y="380.3" font-size="14.6">次卧</text>
<text class="r" x="509.4" y="366.2" font-size="14.6">次卧</text>
<text class="r" x="466.2" y="442.4" font-size="14.6">过道</text>
<text class="r" x="377.5" y="508" font-size="14.6">次卧</text>
<text class="r" x="578.8" y="557.4" font-size="14.6">主卧</text>
<text class="r" x="795.2" y="583.8" font-size="14.6">露台</text>
<text class="c" transform="translate(486.2 457.8) scale(0.74 1)" font-size="12.6">下</text>
<text class="c" transform="translate(528.6 478.4) scale(0.98 1)" font-size="10">上</text>
<text class="c" transform="translate(415.2 886.5) scale(0.668 1)" font-size="39">二层平面布置图</text>
<path d="M414.2 891.8L605.4 891.8" stroke-width="1.8"/>
<path d="M414.2 896.6L605.4 896.6" stroke-width="0.9" stroke="#555"/>
<path d="M147 284.6L266 284.6" stroke-width="1.45"/>
<path d="M147 412.6L266 412.6" stroke-width="1.45"/>
<path d="M147 464.2L266 464.2" stroke-width="1.45"/>
<path d="M147 614.2L266 614.2" stroke-width="1.45"/>
<path d="M773.6 284.6L892.8 284.6" stroke-width="1.45"/>
<path d="M773.6 614.2L892.8 614.2" stroke-width="1.45"/>
<path d="M774 412.6L863 412.6" stroke-width="1.45"/>
<path d="M763 464.2L874 464.2" stroke-width="1.45"/>
<path d="M319.4 77L319.4 240" stroke-width="1.45"/>
<path d="M722.2 77L722.2 240" stroke-width="1.45"/>
<path d="M429.2 113L429.2 240" stroke-width="1.45"/>
<path d="M575.6 113L575.6 240" stroke-width="1.45"/>
<path d="M648.8 113L648.8 240" stroke-width="1.45"/>
<path d="M319.4 657L319.4 785" stroke-width="1.45"/>
<path d="M722.2 657L722.2 785" stroke-width="1.45"/>
<path d="M465.75 657L465.75 756" stroke-width="1.45"/>
<path d="M557.3 657L557.3 756" stroke-width="1.45"/>
</g>
</svg>
</body></html>
